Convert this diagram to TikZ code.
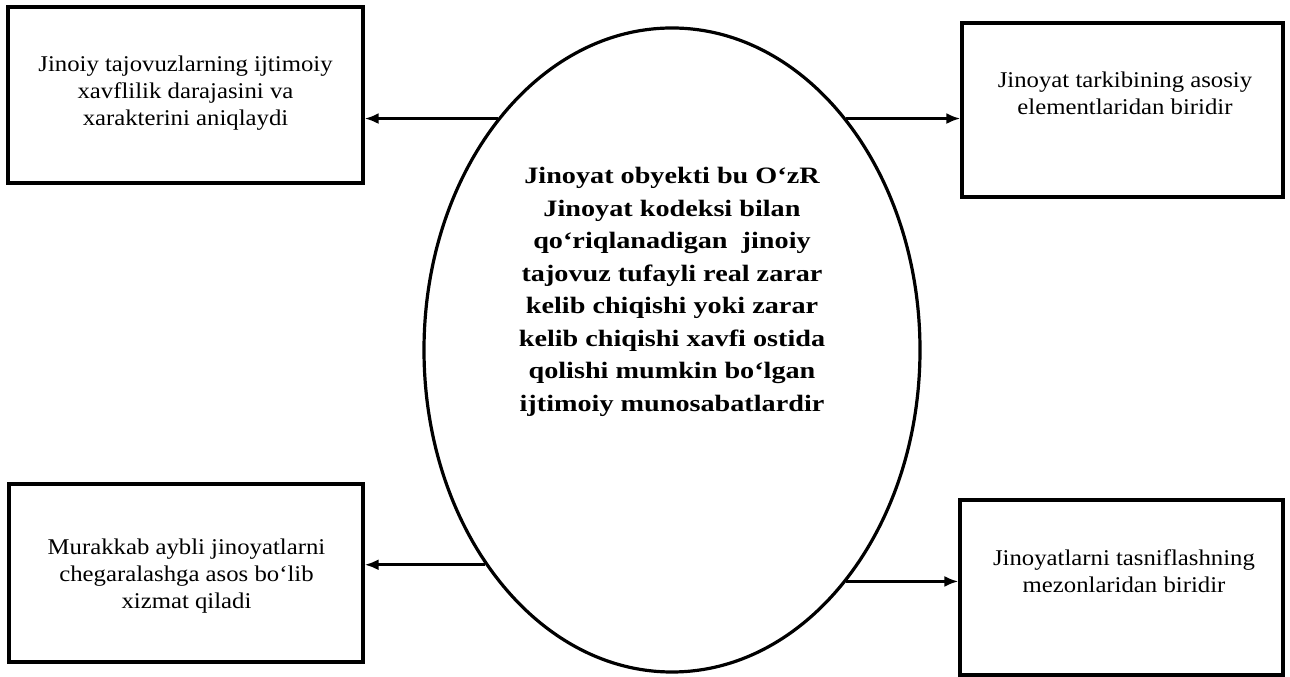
\documentclass[tikz,border=0pt]{standalone}
\usepackage{fontspec}
\setmainfont{Liberation Serif}
\newfontfamily\boxfont[FakeStretch=1.1]{Liberation Serif}
\newfontfamily\objfont[FakeStretch=1.2]{Liberation Serif}
\usetikzlibrary{shapes.geometric, arrows.meta}

\begin{document}
\begin{tikzpicture}[x=1pt, y=1pt,
        box/.style={draw, line width=3.2pt, inner sep=0pt},
        boxtext/.style={align=center, font=\boxfont\fontsize{22.5}{27}\selectfont},
        arrow/.style={-{Latex[length=14pt, width=11pt]}, line width=3.2pt}]
        \useasboundingbox (0, 0) rectangle (1290, 677);
        % central ellipse
        \node[draw, ellipse, line width=3.2pt, minimum width=496pt, minimum height=644pt,
            inner sep=0pt] (obj) at (672, 327) {};
        \node[align=center, font=\objfont\bfseries\fontsize{23.5}{32.5}\selectfont] (objtext) at (672, 385)
            {Jinoyat obyekti bu O‘zR\\ Jinoyat kodeksi bilan\\ qo‘riqlanadigan\ \ jinoiy\\
             tajovuz tufayli real zarar\\ kelib chiqishi yoki zarar\\ kelib chiqishi xavfi ostida\\
             qolishi mumkin bo‘lgan\\ ijtimoiy munosabatlardir};
        % boxes
        \node[box, minimum width=355pt, minimum height=176pt] (tl) at (185.5, 582) {};
        \node[box, minimum width=321pt, minimum height=174pt] (tr) at (1122.5, 567) {};
        \node[box, minimum width=354pt, minimum height=178pt] (bl) at (186, 104) {};
        \node[box, minimum width=323pt, minimum height=175pt] (br) at (1121.5, 89.5) {};
        \node[boxtext] (tltext) at (185.5, 584)
            {Jinoiy tajovuzlarning ijtimoiy\\ xavflilik darajasini va\\ xarakterini aniqlaydi};
        \node[boxtext] (trtext) at (1125, 584)
            {Jinoyat tarkibining asosiy\\ elementlaridan biridir};
        \node[boxtext] (bltext) at (186.5, 101)
            {Murakkab aybli jinoyatlarni\\ chegaralashga asos bo‘lib\\ xizmat qiladi};
        \node[boxtext] (brtext) at (1124, 106)
            {Jinoyatlarni tasniflashning\\ mezonlaridan biridir};
        % arrows
        \draw[arrow] (obj.127) -- (obj.127 -| tl.east);
        \draw[arrow] (obj.53.5) -- (obj.53.5 -| tr.west);
        \draw[arrow] (obj.229) -- (obj.229 -| bl.east);
        \draw[arrow] (obj.307.5) -- (obj.307.5 -| br.west);
\end{tikzpicture}
\end{document}
